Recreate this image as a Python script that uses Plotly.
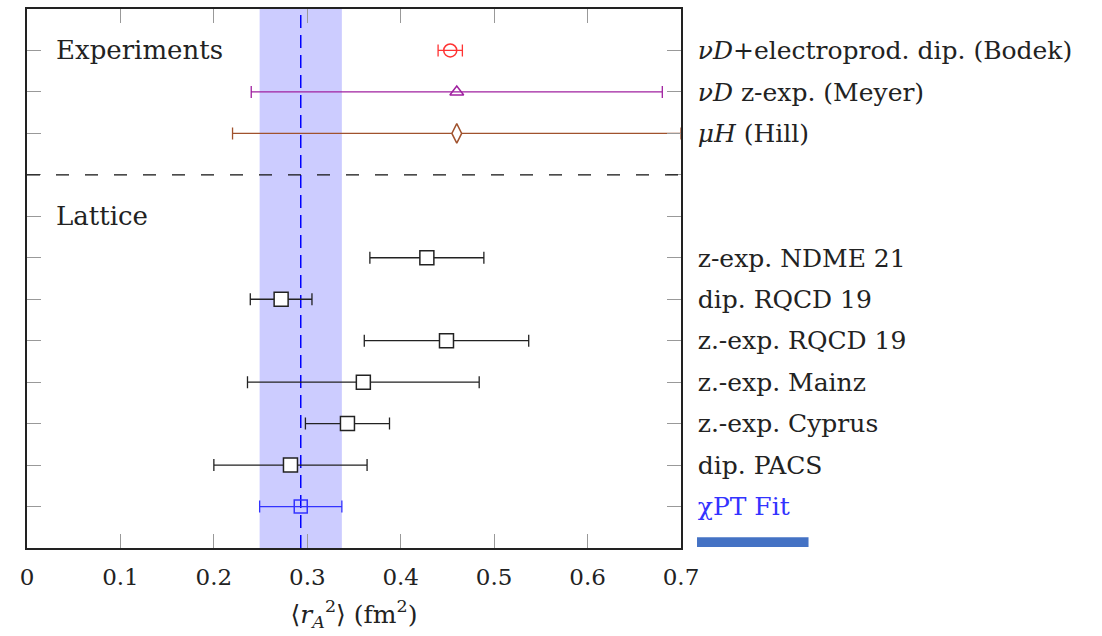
import plotly.graph_objects as go

# Axial radius measurements (fm^2): central value and symmetric uncertainty
exp_names = ["Bodek", "Meyer", "Hill"]
exp_vals = [0.453, 0.46, 0.46]
exp_errs = [0.013, 0.22, 0.24]
exp_rows = [0, 1, 2]

lat_names = ["NDME 21", "dip. RQCD 19", "z.-exp. RQCD 19", "Mainz", "Cyprus", "PACS"]
lat_vals = [0.428, 0.272, 0.449, 0.360, 0.343, 0.282]
lat_errs = [0.061, 0.033, 0.088, 0.124, 0.045, 0.082]
lat_rows = [5, 6, 7, 8, 9, 10]

fit_val = 0.293
fit_err = 0.044
fit_row = 11

label_rows = [0, 1, 2, 5, 6, 7, 8, 9, 10, 11]
row_labels = [
    "<i>νD</i>+electroprod. dip. (Bodek)",
    "<i>νD</i> z-exp. (Meyer)",
    "<i>μH</i> (Hill)",
    "z-exp. NDME 21",
    "dip. RQCD 19",
    "z.-exp. RQCD 19",
    "z.-exp. Mainz",
    "z.-exp. Cyprus",
    "dip. PACS",
    "<span style='color:#3333ff'>χPT Fit</span>",
]
unlabeled_rows = [3, 4]
x_ticks = [0, 0.1, 0.2, 0.3, 0.4, 0.5, 0.6, 0.7]

FONT = "DejaVu Serif"

fig = go.Figure()

exp_colors = ["#ff3333", "#a020a0", "#a0522d"]
exp_symbols = ["circle-open", "triangle-up-open", "diamond-tall"]
exp_sizes = [13, 12, 14]
exp_fills = ["#ff3333", "#a020a0", "white"]
for i in range(len(exp_vals)):
    fig.add_trace(go.Scatter(
        x=[exp_vals[i]], y=[exp_rows[i]], mode="markers", name=exp_names[i],
        marker=dict(symbol=exp_symbols[i], size=exp_sizes[i], color=exp_fills[i],
                    line=dict(color=exp_colors[i], width=1.5)),
        error_x=dict(type="data", array=[exp_errs[i]], color=exp_colors[i],
                     thickness=1.3, width=6),
        showlegend=False, cliponaxis=False,
    ))

fig.add_trace(go.Scatter(
    x=lat_vals, y=lat_rows, mode="markers", name="Lattice",
    marker=dict(symbol="square", size=14, color="white",
                line=dict(color="#222222", width=1.5)),
    error_x=dict(type="data", array=lat_errs, color="#222222", thickness=1.3, width=6),
    showlegend=False,
))

fig.add_trace(go.Scatter(
    x=[fit_val], y=[fit_row], mode="markers", name="χPT Fit",
    marker=dict(symbol="square", size=13, color="rgba(0,0,0,0)",
                line=dict(color="#3333ff", width=1.5)),
    error_x=dict(type="data", array=[fit_err], color="#3333ff", thickness=1.3, width=6),
    showlegend=False,
))

# χPT band and central value
fig.add_shape(type="rect", xref="x", yref="paper", x0=fit_val - fit_err, x1=fit_val + fit_err,
              y0=0, y1=1, fillcolor="#ccccff", line=dict(width=0), layer="below")
fig.add_shape(type="line", xref="x", yref="paper", x0=fit_val, x1=fit_val, y0=0, y1=1,
              line=dict(color="#0000ff", width=1.5, dash="13px,7px"), layer="below")

# separator between experiments and lattice
fig.add_shape(type="line", xref="paper", yref="y", x0=0, x1=1, y0=3, y1=3,
              line=dict(color="#111111", width=1.3, dash="13px,16px"))

# bar under the fit label
fig.add_shape(type="rect", xref="paper", yref="paper", x0=1.0245, x1=1.195, y0=0.002, y1=0.020,
              fillcolor="#4472c4", line=dict(width=0))

fig.add_annotation(x=0.041, y=0, xref="paper", yref="y", text="Experiments", showarrow=False,
                   xanchor="left", yanchor="middle", font=dict(family=FONT, size=26, color="#222222"))
fig.add_annotation(x=0.041, y=4, xref="paper", yref="y", text="Lattice", showarrow=False,
                   xanchor="left", yanchor="middle", font=dict(family=FONT, size=26, color="#222222"))

fig.update_layout(
    width=1102, height=636,
    margin=dict(l=27, r=421, t=7, b=88),
    plot_bgcolor="white", paper_bgcolor="white",
    font=dict(family=FONT, size=23, color="#222222"),
    xaxis=dict(
        range=[0, 0.7], tickvals=x_ticks, ticktext=[f"{v:g}" for v in x_ticks],
        ticks="inside", ticklen=14, tickcolor="#999999", tickwidth=1,
        showline=True, linecolor="#222222", linewidth=1.5, mirror="ticks",
        showgrid=False, zeroline=False, ticklabelstandoff=8,
        tickfont=dict(family=FONT, size=23),
        title=dict(text="⟨<i>r</i><sub><i>A</i></sub><sup>2</sup>⟩ (fm<sup>2</sup>)",
                   font=dict(family=FONT, size=25), standoff=16),
    ),
    yaxis=dict(
        range=[12, -1], tickvals=label_rows, ticktext=row_labels, side="right",
        ticks="inside", ticklen=14, tickcolor="#999999", tickwidth=1,
        showline=True, linecolor="#222222", linewidth=1.5, mirror="ticks",
        showgrid=False, zeroline=False, ticklabelstandoff=10,
        tickfont=dict(family=FONT, size=25),
        minor=dict(tickvals=unlabeled_rows, ticks="inside", ticklen=14,
                   tickcolor="#999999", tickwidth=1, showgrid=False),
    ),
)

fig.write_html("out.html")
